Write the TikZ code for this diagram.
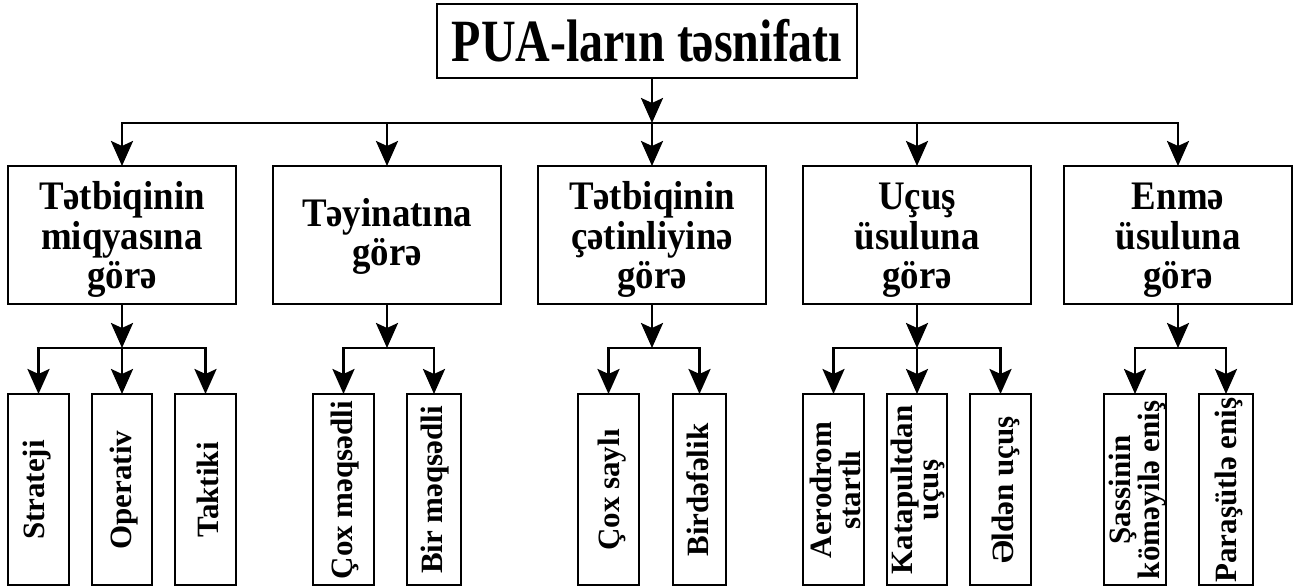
\documentclass[tikz,border=0pt]{standalone}
\usepackage{fontspec}
\setmainfont{Liberation Serif}
\usetikzlibrary{arrows.meta}
\newcommand{\mytxt}[2]{\scalebox{#1}[1]{\begin{tabular}{@{}c@{}}#2\end{tabular}}}
\newcommand{\mylft}[1]{\rotatebox{90}{\begin{tabular}{@{}c@{}}#1\end{tabular}}}
\begin{document}
\begin{tikzpicture}[x=1pt,y=-1pt,
  every node/.style={inner sep=0pt, outer sep=0pt},
  lw/.style={line width=2.8pt},
  topbox/.style={draw, lw, minimum width=420pt, minimum height=74pt,
    font=\bfseries\fontsize{60}{60}\selectfont},
  midbox/.style={draw, lw, minimum width=228pt, minimum height=138pt},
  midtxt/.style={font=\bfseries\fontsize{40.5}{39}\selectfont},
  leafbox/.style={draw, lw, minimum height=191pt, minimum width=#1},
  leaftxt/.style={font=\bfseries\fontsize{31}{26}\selectfont},
  arr/.style={lw, -{Stealth[length=25pt,width=22pt,inset=5pt]}},
  arrb/.style={lw, {Stealth[length=25pt,width=22pt,inset=5pt]}-{Stealth[length=25pt,width=22pt,inset=5pt]}}
]
\useasboundingbox (0,0) rectangle (1296,587);

% top
\node[topbox] (top) at (647,41) {\scalebox{0.8}[1]{PUA-ların təsnifatı}};
\coordinate (bus) at (652,123);
\coordinate (lv3) at (0,348);

% level 2
\node[midbox] (b1) at (122,235) {};
\node[midbox] (b2) at (387,235) {};
\node[midbox] (b3) at (652,235) {};
\node[midbox] (b4) at (917,235) {};
\node[midbox] (b5) at (1178,235) {};
\node[midtxt] (t1) at (122,241) {\mytxt{0.91}{Tətbiqinin\\miqyasına\\görə}};
\node[midtxt] (t2) at (387,237.7) {\mytxt{0.91}{Təyinatına\\görə}};
\node[midtxt] (t3) at (652,241) {\mytxt{0.91}{Tətbiqinin\\çətinliyinə\\görə}};
\node[midtxt] (t4) at (917,241) {\mytxt{0.91}{Uçuş\\üsuluna\\görə}};
\node[midtxt] (t5) at (1178,241) {\mytxt{0.91}{Enmə\\üsuluna\\görə}};

% level 3 boxes
\node[leafbox=61pt] (l11) at (38.5,489.5) {};
\node[leafbox=60pt] (l12) at (122,489.5) {};
\node[leafbox=61pt] (l13) at (205.5,489.5) {};
\node[leafbox=61pt] (l21) at (343.5,489.5) {};
\node[leafbox=54pt] (l22) at (434,489.5) {};
\node[leafbox=61pt] (l31) at (608.5,489.5) {};
\node[leafbox=53pt] (l32) at (699.5,489.5) {};
\node[leafbox=61pt] (l41) at (833.5,489.5) {};
\node[leafbox=60pt] (l42) at (917,489.5) {};
\node[leafbox=61pt] (l43) at (1000.5,489.5) {};
\node[leafbox=62pt] (l51) at (1135,489.5) {};
\node[leafbox=54pt] (l52) at (1226,489.5) {};

% level 3 texts
\node[leaftxt] (s11) at (38,490) {\mylft{Strateji}};
\node[leaftxt] (s12) at (124.5,490) {\mylft{Operativ}};
\node[leaftxt] (s13) at (212,490) {\mylft{Taktiki}};
\node[leaftxt] (s21) at (346,490) {\mylft{Çox məqsədli}};
\node[leaftxt] (s22) at (436,490) {\mylft{Bir məqsədli}};
\node[leaftxt] (s31) at (613,490) {\mylft{Çox saylı}};
\node[leaftxt] (s32) at (701,490) {\mylft{Birdəfəlik}};
\node[leaftxt] (s41) at (839,490) {\mylft{Aerodrom\\startlı}};
\node[leaftxt] (s42) at (919,490) {\mylft{Katapultdan\\uçuş}};
\node[leaftxt] (s43) at (1007,490) {\mylft{Əldən uçuş}};
\node[leaftxt] (s51) at (1138,490) {\mylft{Şassinin\\köməyilə eniş}};
\node[leaftxt] (s52) at (1230,490) {\mylft{Paraşütlə eniş}};

% connectors level 1 -> 2
\draw[arr] (bus |- top.south) -- (bus);
\draw[arrb] (b1.north) -- (b1.north |- bus) -- (b5.north |- bus) -- (b5.north);
\draw[arr] (b2.north |- bus) -- (b2.north);
\draw[arr] (b3.north |- bus) -- (b3.north);
\draw[arr] (b4.north |- bus) -- (b4.north);

% group 1
\draw[arr] (b1.south) -- (b1.south |- lv3);
\draw[arrb] (l11.north) -- (l11.north |- lv3) -- (l13.north |- lv3) -- (l13.north);
\draw[arr] (l12.north |- lv3) -- (l12.north);
% group 2
\draw[arr] (b2.south) -- (b2.south |- lv3);
\draw[arrb] (l21.north) -- (l21.north |- lv3) -- (l22.north |- lv3) -- (l22.north);
% group 3
\draw[arr] (b3.south) -- (b3.south |- lv3);
\draw[arrb] (l31.north) -- (l31.north |- lv3) -- (l32.north |- lv3) -- (l32.north);
% group 4
\draw[arr] (b4.south) -- (b4.south |- lv3);
\draw[arrb] (l41.north) -- (l41.north |- lv3) -- (l43.north |- lv3) -- (l43.north);
\draw[arr] (l42.north |- lv3) -- (l42.north);
% group 5
\draw[arr] (b5.south) -- (b5.south |- lv3);
\draw[arrb] (l51.north) -- (l51.north |- lv3) -- (l52.north |- lv3) -- (l52.north);
\end{tikzpicture}
\end{document}
